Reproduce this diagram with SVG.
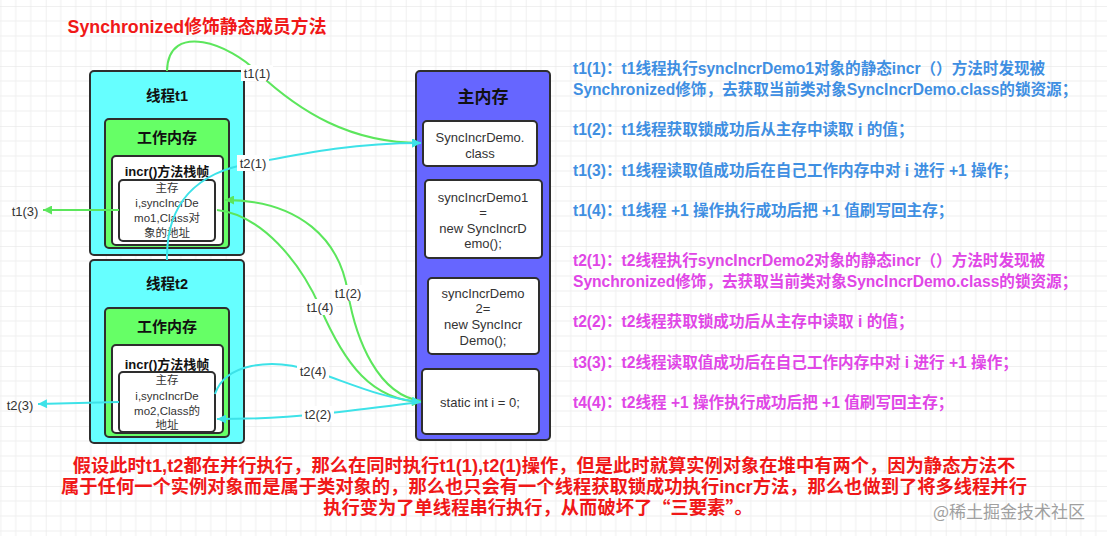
<svg xmlns="http://www.w3.org/2000/svg" width="1107" height="536" viewBox="0 0 1107 536">
<style>
.box{stroke:#2e2e2e;stroke-width:2}
.thread{fill:#66ffff}
.work{fill:#66ff66}
.white{fill:#ffffff}
.mem{fill:#6666ff}
.t{font-family:"Liberation Sans","Noto Sans CJK SC",sans-serif;fill:#333;text-anchor:middle;dominant-baseline:central}
.hb{font-weight:bold;fill:#111}
.small{font-size:11.5px}
.mid{font-size:13px}
.lbl{font-family:"Liberation Sans","Noto Sans CJK SC",sans-serif;font-size:13px;fill:#333;text-anchor:middle;dominant-baseline:central}
.lb{fill:#fff}
.g{fill:none;stroke:#5ce65c;stroke-width:2}
.c{fill:none;stroke:#3de2e8;stroke-width:2}
.desc{font-family:"Liberation Sans","Noto Sans CJK SC",sans-serif;font-size:15.6px;font-weight:bold;dominant-baseline:central}
.blue{fill:#3f8fe2}
.pink{fill:#e046e6}
.red{font-family:"Liberation Sans","Noto Sans CJK SC",sans-serif;font-weight:bold;fill:#f01818;dominant-baseline:central}
.cjk{font-family:"Noto Sans CJK SC",sans-serif}
</style>
<defs>
<pattern id="grid" patternUnits="userSpaceOnUse" x="45.7" y="6" width="60" height="60">
<path d="M15,0V60M30,0V60M45,0V60M0,15H60M0,30H60M0,45H60" stroke="#efefef" stroke-width="1" fill="none"/>
<path d="M0,0V60M0,0H60" stroke="#e2e2e2" stroke-width="1" fill="none"/>
</pattern>
<marker id="ag" viewBox="0 0 10 10" refX="10" refY="5" markerWidth="12" markerHeight="9" markerUnits="userSpaceOnUse" orient="auto"><path d="M0,0L10,5L0,10z" fill="#5ce65c"/></marker>
<marker id="ac" viewBox="0 0 10 10" refX="10" refY="5" markerWidth="12" markerHeight="9" markerUnits="userSpaceOnUse" orient="auto"><path d="M0,0L10,5L0,10z" fill="#3de2e8"/></marker>
</defs>
<rect width="1107" height="536" fill="#ffffff"/>
<rect width="1107" height="536" fill="url(#grid)"/>

<text x="197" y="27" class="red" font-size="17.8px" text-anchor="middle">Synchronized修饰静态成员方法</text>

<g id="thread-t1">
<rect class="box thread" x="90" y="71" width="154" height="184" rx="4"/>
<text class="t hb" x="167" y="96" font-size="14.5px">线程t1</text>
<rect class="box work" x="105" y="119" width="124" height="129" rx="4"/>
<text class="t hb" x="167" y="137" font-size="15px">工作内存</text>
<rect class="box white" x="112" y="156" width="111" height="89" rx="4"/>
<text class="t hb" x="167" y="171" font-size="13px">incr()方法栈帧</text>
<rect class="box white" x="119" y="180" width="96" height="61" rx="4"/>
<text class="t small" x="167" y="188">主存</text>
<text class="t small" x="167" y="203">i,syncIncrDe</text>
<text class="t small" x="167" y="218">mo1,Class对</text>
<text class="t small" x="167" y="233">象的地址</text>
</g>

<g id="thread-t2">
<rect class="box thread" x="90" y="260" width="154" height="183" rx="4"/>
<text class="t hb" x="167" y="284" font-size="14.5px">线程t2</text>
<rect class="box work" x="105" y="308" width="124" height="129" rx="4"/>
<text class="t hb" x="167" y="326" font-size="15px">工作内存</text>
<rect class="box white" x="112" y="345" width="111" height="88" rx="4"/>
<text class="t hb" x="167" y="364" font-size="13px">incr()方法栈帧</text>
<rect class="box white" x="119" y="372" width="96" height="60" rx="4"/>
<text class="t small" x="167" y="380">主存</text>
<text class="t small" x="167" y="396">i,syncIncrDe</text>
<text class="t small" x="167" y="411">mo2,Class的</text>
<text class="t small" x="167" y="425">地址</text>
</g>

<g id="main-memory">
<rect class="box mem" x="416" y="71" width="134" height="369" rx="4"/>
<text class="t hb" x="483" y="97" font-size="17px">主内存</text>
</g>
<g id="class-obj">
<rect class="box white" x="423" y="121" width="114" height="45" rx="4"/>
<text class="t mid" x="480" y="137">SyncIncrDemo.</text>
<text class="t mid" x="480" y="153">class</text>
</g>
<g id="demo1">
<rect class="box white" x="425" y="180" width="117" height="78" rx="4"/>
<text class="t mid" x="483" y="197">syncIncrDemo1</text>
<text class="t mid" x="483" y="212">=</text>
<text class="t mid" x="483" y="228">new SyncIncrD</text>
<text class="t mid" x="483" y="243">emo();</text>
</g>
<g id="demo2">
<rect class="box white" x="428" y="278" width="111" height="76" rx="4"/>
<text class="t mid" x="483" y="293">syncIncrDemo</text>
<text class="t mid" x="483" y="308">2=</text>
<text class="t mid" x="483" y="324">new SyncIncr</text>
<text class="t mid" x="483" y="340">Demo();</text>
</g>
<g id="static-i">
<rect class="box white" x="422" y="369" width="117" height="65" rx="4"/>
<text class="t mid" x="480" y="402">static int i = 0;</text>
</g>

<g id="connectors">
<path class="g" d="M167,71 C168,20 232,45 257,72 C300,112 350,143 421,143" marker-end="url(#ag)"/>
<path class="c" d="M167,260 C166,205 195,172 253,163 C300,154 350,143 421,143" marker-end="url(#ac)"/>
<path class="g" d="M421,401 C378,395 356,340 348,293 C340,240 300,200 225,200" marker-end="url(#ag)"/>
<path class="g" d="M217,210 C262,215 300,262 320,307 C345,365 372,400 421,402" marker-end="url(#ag)"/>
<path class="g" d="M119,210 L43,210" marker-end="url(#ag)"/>
<path class="c" d="M119,402 L38,404" marker-end="url(#ac)"/>
<path class="c" d="M215,394 C225,364 270,357 313,371 C350,383 380,398 421,402" marker-end="url(#ac)"/>
<path class="c" d="M421,402 C372,408 342,412 318,414 C282,418 252,419 217,419" marker-end="url(#ac)"/>
<rect class="lb" x="241" y="65" width="32" height="16"/>
<text class="lbl" x="257" y="73">t1(1)</text>
<rect class="lb" x="237" y="155" width="32" height="16"/>
<text class="lbl" x="253" y="163">t2(1)</text>
<rect class="lb" x="332" y="285" width="32" height="16"/>
<text class="lbl" x="348" y="293">t1(2)</text>
<rect class="lb" x="304" y="299" width="32" height="16"/>
<text class="lbl" x="320" y="307">t1(4)</text>
<rect class="lb" x="297" y="363" width="32" height="16"/>
<text class="lbl" x="313" y="371">t2(4)</text>
<rect class="lb" x="302" y="406" width="32" height="16"/>
<text class="lbl" x="318" y="414">t2(2)</text>
<text class="lbl" x="25" y="211">t1(3)</text>
<text class="lbl" x="20" y="405">t2(3)</text>
</g>

<g id="notes-t1" class="desc blue">
<text x="573" y="68">t1(1)：t1线程执行syncIncrDemo1对象的静态incr（）方法时发现被</text>
<text x="573" y="89">Synchronized修饰，去获取当前类对象SyncIncrDemo.class的锁资源；</text>
<text x="573" y="129">t1(2)：t1线程获取锁成功后从主存中读取 i 的值；</text>
<text x="573" y="170">t1(3)：t1线程读取值成功后在自己工作内存中对 i 进行 +1 操作；</text>
<text x="573" y="210">t1(4)：t1线程 +1 操作执行成功后把 +1 值刷写回主存；</text>
</g>
<g id="notes-t2" class="desc pink">
<text x="573" y="260">t2(1)：t2线程执行syncIncrDemo2对象的静态incr（）方法时发现被</text>
<text x="573" y="281">Synchronized修饰，去获取当前类对象SyncIncrDemo.class的锁资源；</text>
<text x="573" y="321">t2(2)：t2线程获取锁成功后从主存中读取 i 的值；</text>
<text x="573" y="362">t3(3)：t2线程读取值成功后在自己工作内存中对 i 进行 +1 操作；</text>
<text x="573" y="402">t4(4)：t2线程 +1 操作执行成功后把 +1 值刷写回主存；</text>
</g>

<g id="summary" class="red" font-size="18.3px" text-anchor="middle">
<text x="544" y="465">假设此时t1,t2都在并行执行，那么在同时执行t1(1),t2(1)操作，但是此时就算实例对象在堆中有两个，因为静态方法不</text>
<text x="544" y="486">属于任何一个实例对象而是属于类对象的，那么也只会有一个线程获取锁成功执行incr方法，那么也做到了将多线程并行</text>
<text x="538" y="507">执行变为了单线程串行执行，从而破坏了<tspan class="cjk">“</tspan>三要素<tspan class="cjk">”</tspan>。</text>
</g>

<text x="1009" y="510" font-family="Noto Sans CJK SC, sans-serif" font-size="17px" fill="#a0a0a0" text-anchor="middle" dominant-baseline="central">@稀土掘金技术社区</text>
</svg>
